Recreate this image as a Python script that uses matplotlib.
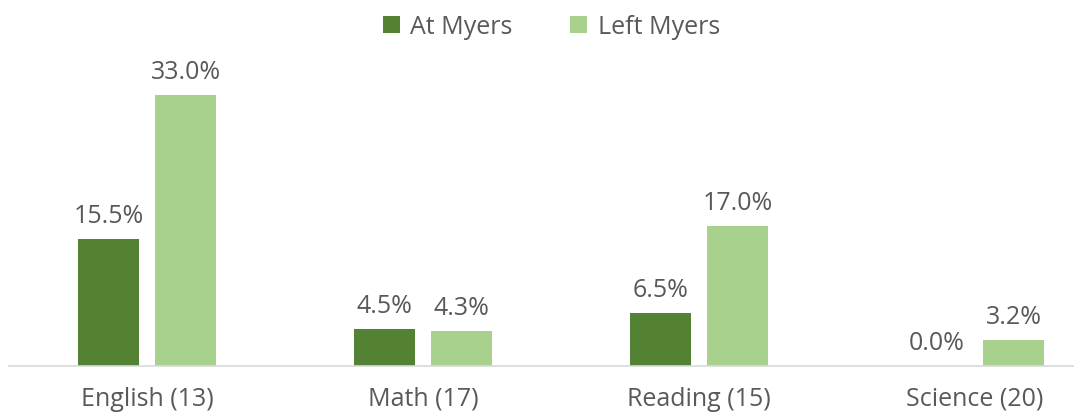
import matplotlib
matplotlib.use("Agg")
import matplotlib.pyplot as plt
import numpy as np

categories = ["English (13)", "Math (17)", "Reading (15)", "Science (20)"]
at_myers = [15.5, 4.5, 6.5, 0.0]
left_myers = [33.0, 4.3, 17.0, 3.2]
series_names = ["At Myers", "Left Myers"]

dark = "#548235"
light = "#A9D18E"
text_col = "#595959"

plt.rcParams['font.family'] = ['Open Sans', 'DejaVu Sans']

W, H = 1074, 413
fig = plt.figure(figsize=(W/100, H/100), dpi=100)
left_px, right_px = 9, 1113
base_px = 366
ax = fig.add_axes([left_px/W, (H-base_px)/H, (right_px-left_px)/W, base_px/H])

x = np.arange(len(categories))
bw = 0.2246
off = 0.1395
b1 = ax.bar(x - off, at_myers, bw, color=dark, label=series_names[0])
b2 = ax.bar(x + off, left_myers, bw, color=light, label=series_names[1])

ax.set_xlim(-0.5, len(categories) - 0.5)
ax.set_ylim(0, 44.5)

fs = 18
for bars, vals in ((b1, at_myers), (b2, left_myers)):
    for rect, v in zip(bars, vals):
        ax.annotate(f"{v:.1f}%", (rect.get_x() + rect.get_width()/2, v),
                    xytext=(0, 11.5), textcoords="offset points",
                    ha="center", va="baseline", fontsize=fs, color=text_col)

for s in ("top", "right", "left"):
    ax.spines[s].set_visible(False)
ax.spines["bottom"].set_color("#D9D9D9")
ax.spines["bottom"].set_linewidth(1.2)
ax.set_yticks([])
ax.set_xticks(x)
ax.set_xticklabels(categories, fontsize=fs, color=text_col)
ax.tick_params(axis="x", length=0, pad=15)

leg = fig.legend(handles=[b1, b2], labels=series_names, loc="center left",
                 bbox_to_anchor=(383/W, 1 - 27/H), ncol=2, frameon=False,
                 fontsize=fs, handlelength=0.68, handleheight=0.68,
                 columnspacing=2.3, handletextpad=0.42,
                 borderpad=0, borderaxespad=0)
for t in leg.get_texts():
    t.set_color(text_col)

fig.savefig("out.png", dpi=100)
